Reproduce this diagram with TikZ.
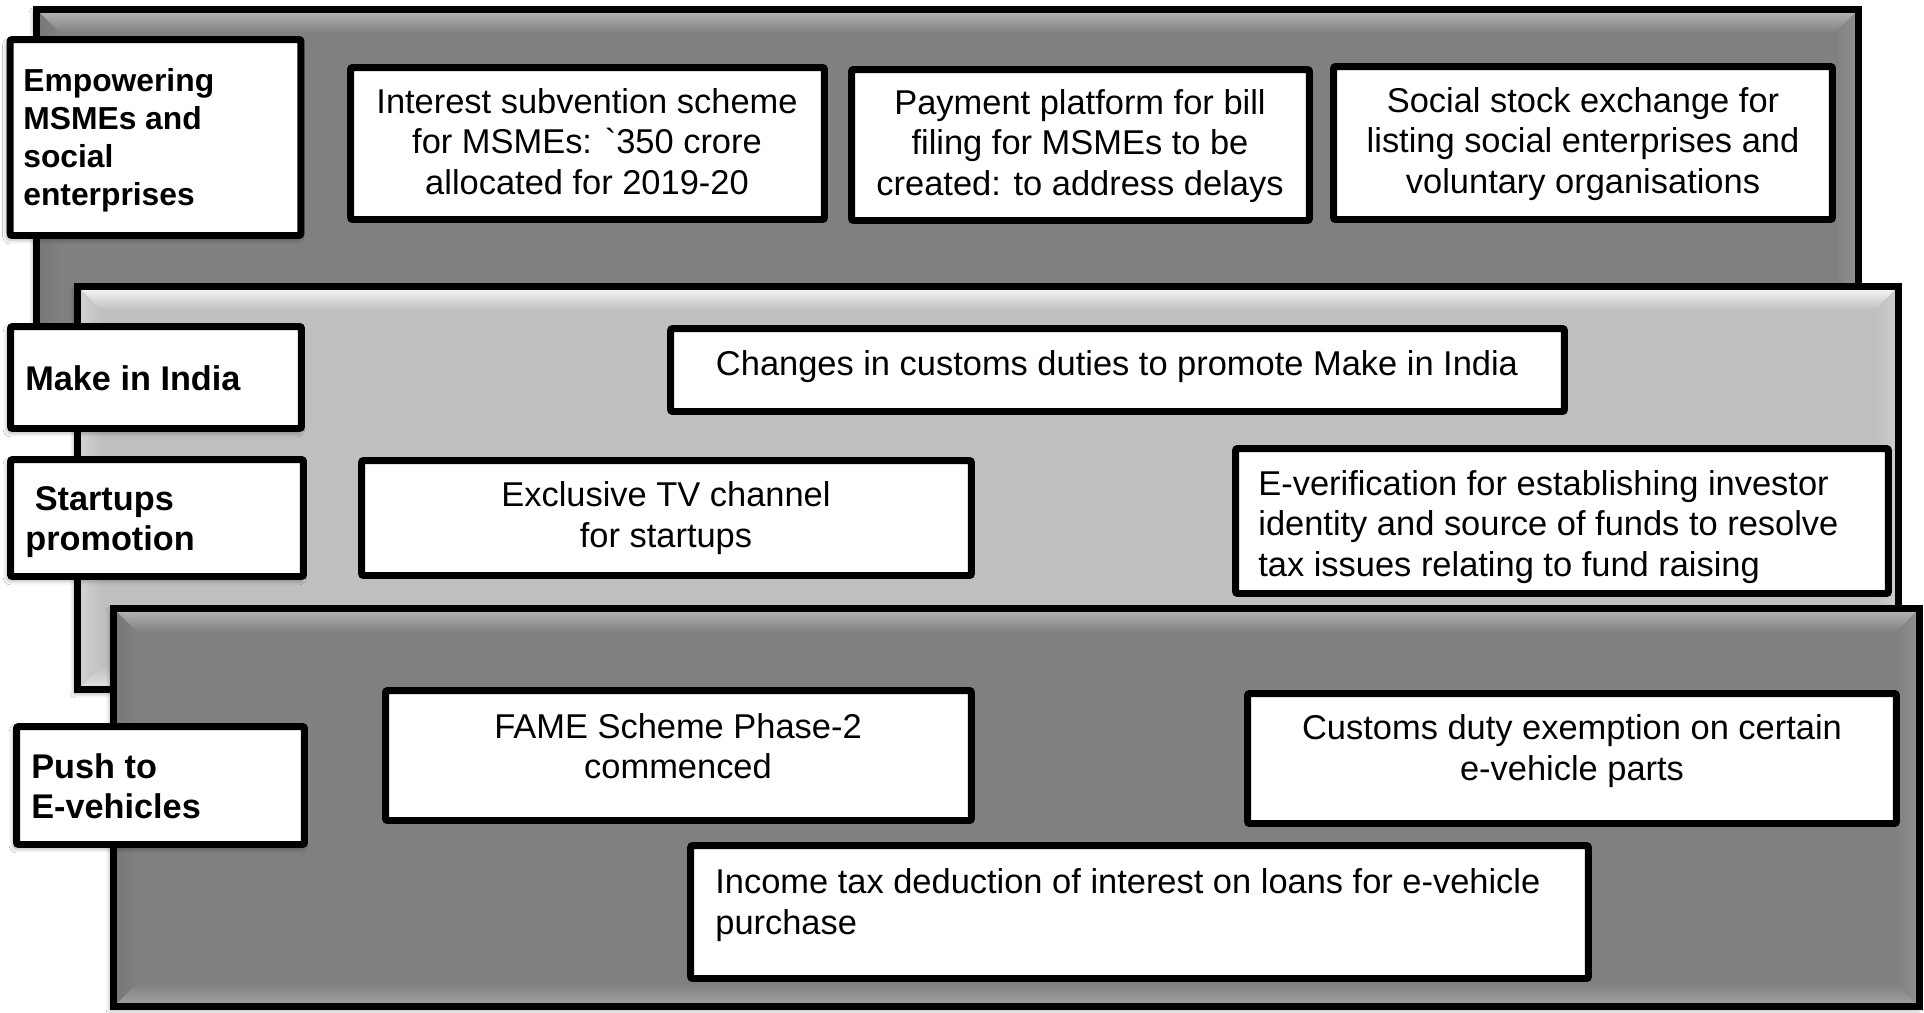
\documentclass[tikz,border=0pt]{standalone}
\usepackage{fontspec}
\newfontfamily\arial{Liberation Sans}
\usetikzlibrary{shadows.blur}

\definecolor{darkbase}{gray}{0.50}
\definecolor{darktop}{gray}{0.69}
\definecolor{darkbottom}{gray}{0.62}
\definecolor{darkleft}{gray}{0.47}
\definecolor{darkright}{gray}{0.56}
\definecolor{lightbase}{gray}{0.75}
\definecolor{lighttop}{gray}{0.95}
\definecolor{lightbottom}{gray}{0.88}
\definecolor{lightleft}{gray}{0.82}
\definecolor{lightright}{gray}{0.80}

\tikzset{
  x=0.02cm, y=-0.02cm,
  edge/.style={line width=3.97pt, line join=miter},
  softshadow/.style={blur shadow={shadow xshift=-1.2pt, shadow yshift=-1.8pt,
      shadow blur radius=3pt, shadow opacity=45}},
  itembox/.style={draw=black, fill=white, line width=3.97pt, rounded corners=1.2pt, inner sep=0pt},
  headbox/.style={itembox, softshadow},
  itemtext/.style={inner sep=0pt, text depth=4.2pt, font=\arial\fontsize{19.6}{23}\selectfont},
  headtext/.style={inner sep=0pt, text depth=4.2pt, align=left, anchor=west,
      font=\arial\bfseries\fontsize{19.5}{23}\selectfont},
}

% Bevelled layer: corners given on the line centre, then colours
% base, top, bottom, left, right
\newcommand\steppanel[9]{%
  \fill[#5, softshadow] (#1,#2) rectangle (#3,#4);
  \shade[top color=#6, bottom color=#5]
    ({#1+3.5},{#2+3.5}) -- ({#3-3.5},{#2+3.5}) -- ({#3-23.5},{#2+23.5}) -- ({#1+23.5},{#2+23.5}) -- cycle;
  \shade[top color=#5, bottom color=#7]
    ({#1+23.5},{#4-23.5}) -- ({#3-23.5},{#4-23.5}) -- ({#3-3.5},{#4-3.5}) -- ({#1+3.5},{#4-3.5}) -- cycle;
  \shade[left color=#8, right color=#5]
    ({#1+3.5},{#2+3.5}) -- ({#1+23.5},{#2+23.5}) -- ({#1+23.5},{#4-23.5}) -- ({#1+3.5},{#4-3.5}) -- cycle;
  \shade[left color=#5, right color=#9]
    ({#3-3.5},{#2+3.5}) -- ({#3-23.5},{#2+23.5}) -- ({#3-23.5},{#4-23.5}) -- ({#3-3.5},{#4-3.5}) -- cycle;
  \draw[edge] (#1,#2) rectangle (#3,#4);
}

\begin{document}
\begin{tikzpicture}
\useasboundingbox[fill=white] (0,0) rectangle (1924,1012);

% ---- layer 1: MSMEs and social enterprises
\steppanel{36.5}{9.5}{1858.5}{400}{darkbase}{darktop}{darkbottom}{darkleft}{darkright}
\node[itembox, minimum width=9.48cm, minimum height=3.04cm] (subv) at (587.5,143.5) {};
\node[itemtext, align=center] (subv-t) at (587,145)
  {Interest subvention scheme\\for MSMEs: \symbol{96}350 crore\\allocated for 2019-20};
\node[itembox, minimum width=9.16cm, minimum height=3.02cm] (pay) at (1080.5,145) {};
\node[itemtext, align=center] (pay-t) at (1080,146)
  {Payment platform for bill\\filing for MSMEs to be\\created: to address delays};
\node[itembox, minimum width=9.98cm, minimum height=3.06cm] (sse) at (1583,143) {};
\node[itemtext, align=center] (sse-t) at (1583,144)
  {Social stock exchange for\\listing social enterprises and\\voluntary organisations};

% ---- layer 2: Make in India and startups
\steppanel{77.5}{286.5}{1898.5}{689.5}{lightbase}{lighttop}{lightbottom}{lightleft}{lightright}
\node[itembox, minimum width=17.88cm, minimum height=1.66cm] (cust) at (1117.5,370) {};
\node[itemtext] (cust-t) at (1117,366.5)
  {Changes in customs duties to promote Make in India};
\node[itembox, minimum width=12.2cm, minimum height=2.3cm] (tv) at (666.5,518) {};
\node[itemtext, align=center] (tv-t) at (666,518)
  {Exclusive TV channel\\for startups};
\node[itembox, minimum width=13.06cm, minimum height=2.9cm] (ever) at (1562,521) {};
\node[itemtext, align=left, anchor=west] (ever-t) at (1258,527)
  {E-verification for establishing investor\\identity and source of funds to resolve\\tax issues relating to fund raising};

% ---- layer 3: e-vehicles
\steppanel{113.5}{608.5}{1919.5}{1006.5}{darkbase}{darktop}{darkbottom}{darkleft}{darkright}
\node[itembox, minimum width=11.72cm, minimum height=2.6cm] (fame) at (678.5,755.5) {};
\node[itemtext, align=center] (fame-t) at (678,749.5)
  {FAME Scheme Phase-2\\commenced};
\node[itembox, minimum width=12.98cm, minimum height=2.6cm] (exem) at (1572,758.5) {};
\node[itemtext, align=center] (exem-t) at (1572,751)
  {Customs duty exemption on certain\\e-vehicle parts};
\node[itembox, minimum width=17.96cm, minimum height=2.66cm] (itax) at (1139.5,912) {};
\node[itemtext, align=left, anchor=west] (itax-t) at (715,905)
  {Income tax deduction of interest on loans for e-vehicle\\purchase};

% ---- row headings
\node[headbox, minimum width=5.82cm, minimum height=3.92cm] (h1) at (155.5,137.5) {};
\node[headtext, font=\arial\bfseries\fontsize{18.1}{21.6}\selectfont] (h1-t) at (23,141)
  {Empowering\\MSMEs and\\social\\enterprises};
\node[headbox, minimum width=5.82cm, minimum height=2.04cm] (h2) at (156,377.5) {};
\node[headtext] (h2-t) at (25,381.5) {Make in India};
\node[headbox, minimum width=5.86cm, minimum height=2.34cm] (h3) at (157,518) {};
\node[headtext] (h3-t) at (25,522) {\hspace{5.4pt}Startups\\promotion};
\node[headbox, minimum width=5.76cm, minimum height=2.36cm] (h4) at (160.5,785.5) {};
\node[headtext] (h4-t) at (31,790) {Push to\\E-vehicles};
\end{tikzpicture}
\end{document}
